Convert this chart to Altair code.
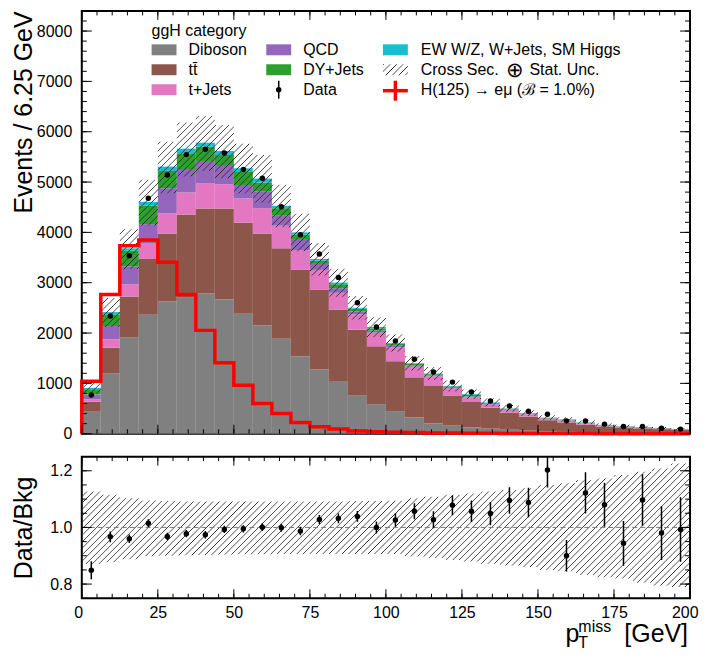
import altair as alt
import pandas as pd

FONT = "Liberation Sans"

# ---------------- data ----------------
bin_edges = [6.25 * i for i in range(33)]          # 0 ... 200 GeV, 6.25 GeV bins

processes = ["Diboson", "tt\u0304", "t+Jets", "QCD", "DY+Jets", "EW W/Z, W+Jets, SM Higgs"]
proc_colors = ["#808080", "#8c564b", "#e377c2", "#9467bd", "#2ca02c", "#17becf"]

diboson = [436, 1195, 1914, 2363, 2627, 2700, 2785, 2673, 2383, 2152, 1888, 1538, 1274, 1030, 766, 587,
           449, 323, 205, 170, 125, 100, 78, 60, 46, 36, 28, 22, 18, 15, 12, 10]
ttbar = [198, 515, 812, 1109, 1353, 1656, 1690, 1802, 1815, 1828, 1795, 1716, 1584, 1439, 1300, 1149,
         991, 797, 755, 590, 505, 415, 342, 280, 222, 188, 152, 120, 106, 92, 79, 65]
tjets = [46, 165, 244, 317, 396, 436, 495, 482, 475, 502, 449, 396, 396, 330, 304, 271,
         275, 210, 180, 145, 92, 65, 50, 42, 30, 36, 25, 18, 16, 14, 12, 10]
qcd = [99, 264, 357, 375, 502, 449, 449, 363, 251, 336, 211, 218, 119, 92, 59, 39,
       45, 28, 20, 20, 18, 15, 13, 10, 8, 8, 7, 6, 5, 4, 4, 3]
dyjets = [106, 231, 310, 364, 343, 330, 284, 218, 277, 172, 137, 86, 66, 79, 53, 46,
          25, 27, 22, 15, 30, 15, 12, 10, 8, 9, 7, 6, 4, 4, 3, 2]
ewk = [26, 46, 46, 79, 86, 92, 79, 79, 73, 79, 48, 46, 33, 33, 20, 27,
       15, 15, 13, 10, 15, 10, 7, 8, 6, 7, 5, 4, 3, 3, 2, 2]

data_counts = [770, 2337, 3538, 4680, 5142, 5545, 5650, 5577, 5248, 5076, 4508, 3954, 3571, 3102, 2601, 2119,
               1840, 1479, 1228, 1025, 831, 650, 550, 446, 386, 255, 252, 190, 144, 145, 110, 91]
signal = [1043, 2766, 3736, 3848, 3406, 2766, 2053, 1412, 964, 601, 403, 224, 139, 92, 53, 40,
          30, 22, 16, 12, 9, 7, 5, 4, 3, 2, 2, 1, 1, 1, 1, 0]

ratio = [0.849, 0.967, 0.960, 1.015, 0.968, 0.978, 0.974, 0.993, 0.995, 1.001, 0.999, 0.987, 1.028, 1.032,
         1.039, 1.000, 1.026, 1.057, 1.027, 1.078, 1.057, 1.049, 1.095, 1.088, 1.203, 0.900, 1.122, 1.080,
         0.944, 1.097, 0.980, 0.993]
ratio_err = [0.032, 0.019, 0.015, 0.014, 0.013, 0.013, 0.013, 0.013, 0.013, 0.014, 0.014, 0.015, 0.016, 0.017,
             0.019, 0.021, 0.024, 0.028, 0.030, 0.035, 0.038, 0.041, 0.047, 0.052, 0.062, 0.056, 0.073, 0.078,
             0.079, 0.091, 0.095, 0.114]
unc_up = [1.127, 1.115, 1.103, 1.095, 1.093, 1.092, 1.092, 1.092, 1.092, 1.092, 1.092, 1.092, 1.092, 1.092,
          1.093, 1.093, 1.094, 1.103, 1.108, 1.115, 1.120, 1.127, 1.132, 1.138, 1.150, 1.156, 1.167, 1.173,
          1.185, 1.197, 1.208, 1.226]
unc_dn = [0.871, 0.877, 0.888, 0.898, 0.900, 0.902, 0.903, 0.904, 0.905, 0.905, 0.906, 0.906, 0.906, 0.906,
          0.906, 0.906, 0.906, 0.897, 0.892, 0.885, 0.880, 0.872, 0.866, 0.860, 0.850, 0.845, 0.832, 0.824,
          0.820, 0.805, 0.795, 0.790]

x_major = [0, 25, 50, 75, 100, 125, 150, 175, 200]
x_minor = [5 * i for i in range(41)]
y_top_major = [0, 1000, 2000, 3000, 4000, 5000, 6000, 7000, 8000]
y_top_minor = [200 * i for i in range(43)]
y_low_major = [0.8, 1.0, 1.2]
y_low_minor = [0.75 + 0.05 * i for i in range(11)]

# ---------------- layout ----------------
W = 610
H_TOP = 424
H_LOW = 142
Y_MAX = 8400
R_LO, R_HI = 0.75, 1.25

xs = alt.Scale(domain=[0, 200], nice=False, zero=False)
ys_top = alt.Scale(domain=[0, Y_MAX], nice=False, zero=False)
ys_low = alt.Scale(domain=[R_LO, R_HI], nice=False, zero=False)

dummy = pd.DataFrame({"a": [0]})


def hatch(w, h, period=6.5, lw=1.7, rgb="40,40,40"):
    s_tot = w + h
    k = w * s_tot / (w * w + h * h)
    stops = []
    s = 0.0
    while s + lw < s_tot:
        stops.append({"offset": s / s_tot, "color": f"rgba({rgb},0)"})
        stops.append({"offset": (s + lw / 2) / s_tot, "color": f"rgba({rgb},1)"})
        stops.append({"offset": (s + lw) / s_tot, "color": f"rgba({rgb},0)"})
        s += period
    return {"gradient": "linear", "x1": 0, "y1": 0, "x2": k, "y2": k * h / w, "stops": stops}


# ---------------- tables ----------------
series = [diboson, ttbar, tjets, qcd, dyjets, ewk]
rows = []
totals = []
for i in range(32):
    base = 0
    for p, s in zip(processes, series):
        rows.append({"proc": p, "x0": bin_edges[i], "x1": bin_edges[i + 1], "y0": base, "y1": base + s[i]})
        base += s[i]
    totals.append(base)
stack_df = pd.DataFrame(rows)

band_hi = [t * u for t, u in zip(totals, unc_up)]
band_lo = [t * d for t, d in zip(totals, unc_dn)]
band_df = pd.DataFrame({"x": bin_edges, "hi": band_hi + [band_hi[-1]], "lo": band_lo + [band_lo[-1]]})

centers = [(bin_edges[i] + bin_edges[i + 1]) / 2 for i in range(32)]
data_df = pd.DataFrame({"x": centers, "y": data_counts})

sig_df = pd.DataFrame({"x": [0.0] + bin_edges[:-1] + [200.0],
                       "y": [0] + signal + [signal[-1]],
                       "i": list(range(34))})

ratio_df = pd.DataFrame({"x": centers, "r": ratio,
                         "lo": [r - e for r, e in zip(ratio, ratio_err)],
                         "hi": [r + e for r, e in zip(ratio, ratio_err)]})
rband_df = pd.DataFrame({"x": bin_edges, "hi": unc_up + [unc_up[-1]], "lo": unc_dn + [unc_dn[-1]]})


def py_top(v):
    return H_TOP * (1 - v / Y_MAX)


def py_low(v):
    return H_LOW * (R_HI - v) / (R_HI - R_LO)


hatch_top = hatch(W, py_top(min(band_lo)) - py_top(max(band_hi)))
hatch_low = hatch(W, py_low(min(unc_dn)) - py_low(max(unc_up)))
hatch_leg = hatch(25, 11)

# ---------------- axes (identical objects on every layer so they merge) ----------------
y_axis_top = alt.Axis(values=y_top_major, format="d", labelFont=FONT, labelFontSize=16, labelPadding=10,
                      labelColor="black", domain=False, ticks=False, grid=False,
                      title="Events / 6.25 GeV", titleFont=FONT, titleFontSize=25, titleFontWeight="normal",
                      titleColor="black", titleAlign="right", titleBaseline="alphabetic", titleX=-50, titleY=0)
y_axis_low = alt.Axis(values=y_low_major, format=".1f", labelFont=FONT, labelFontSize=16, labelPadding=10,
                      labelColor="black", domain=False, ticks=False, grid=False,
                      title="Data/Bkg", titleFont=FONT, titleFontSize=25, titleFontWeight="normal",
                      titleColor="black", titleAlign="center", titleBaseline="alphabetic", titleX=-50,
                      titleY=H_LOW / 2)
x_axis_low = alt.Axis(values=x_major, format="d", labelFont=FONT, labelFontSize=16, labelPadding=6,
                      labelColor="black", labelFlush=True, labelFlushOffset=8,
                      domain=False, ticks=False, grid=False, title=None)


def ticks(ys, h, ymaj, ymin, xaxis, yaxis):
    out = []
    for vals, L in [(x_major, 9), (x_minor, 4.5)]:
        b = alt.Chart(pd.DataFrame({"v": vals})).mark_rule(color="black", strokeWidth=1)
        out.append(b.encode(x=alt.X("v:Q", scale=xs, axis=xaxis), y=alt.value(h), y2=alt.value(h - L)))
        out.append(b.encode(x=alt.X("v:Q", scale=xs, axis=xaxis), y=alt.value(0), y2=alt.value(L)))
    for vals, L in [(ymaj, 10), (ymin, 5)]:
        b = alt.Chart(pd.DataFrame({"v": vals})).mark_rule(color="black", strokeWidth=1)
        out.append(b.encode(y=alt.Y("v:Q", scale=ys, axis=yaxis), x=alt.value(0), x2=alt.value(L)))
        out.append(b.encode(y=alt.Y("v:Q", scale=ys, axis=yaxis), x=alt.value(W - L), x2=alt.value(W)))
    return out


def text(t, x, y, size=16, align="left", baseline="middle"):
    return alt.Chart(dummy).mark_text(text=t, font=FONT, fontSize=size, align=align, baseline=baseline,
                                      color="black").encode(x=alt.value(x), y=alt.value(y))


def swatch(x0, x1, yc, fill, h=11):
    return alt.Chart(dummy).mark_rect(fill=fill, opacity=1).encode(
        x=alt.value(x0), x2=alt.value(x1), y=alt.value(yc - h / 2), y2=alt.value(yc + h / 2))


def seg(x0, x1, y0, y1, color, sw):
    return alt.Chart(dummy).mark_rule(color=color, strokeWidth=sw).encode(
        x=alt.value(x0), x2=alt.value(x1), y=alt.value(y0), y2=alt.value(y1))


# ---------------- top panel ----------------
bars = alt.Chart(stack_df).mark_bar(opacity=1).encode(
    x=alt.X("x0:Q", scale=xs, axis=None), x2="x1:Q",
    y=alt.Y("y1:Q", scale=ys_top, axis=y_axis_top), y2="y0:Q",
    color=alt.Color("proc:N", scale=alt.Scale(domain=processes, range=proc_colors), legend=None))

band = alt.Chart(band_df).mark_area(interpolate="step-after", fill=hatch_top, opacity=1).encode(
    x=alt.X("x:Q", scale=xs, axis=None),
    y=alt.Y("hi:Q", scale=ys_top, axis=y_axis_top), y2="lo:Q")

sig = alt.Chart(sig_df).mark_line(interpolate="step-after", color="#ff0000", strokeWidth=3.5,
                                  strokeJoin="miter").encode(
    x=alt.X("x:Q", scale=xs, axis=None), y=alt.Y("y:Q", scale=ys_top, axis=y_axis_top), order="i:Q")

pts = alt.Chart(data_df).mark_circle(size=30, color="black", opacity=1).encode(
    x=alt.X("x:Q", scale=xs, axis=None), y=alt.Y("y:Q", scale=ys_top, axis=y_axis_top))

legend = [
    text("ggH category", 70, 20),
    swatch(70, 95, 39, proc_colors[0]), text("Diboson", 107, 39),
    swatch(70, 95, 59, proc_colors[1]), text("tt\u0304", 107, 59),
    swatch(70, 95, 79, proc_colors[2]), text("t+Jets", 107, 79),
    swatch(185, 210, 39, proc_colors[3]), text("QCD", 222, 39),
    swatch(185, 210, 59, proc_colors[4]), text("DY+Jets", 222, 59),
    seg(197.5, 197.5, 70, 88, "black", 1.5),
    alt.Chart(dummy).mark_circle(size=30, color="black", opacity=1).encode(x=alt.value(197.5), y=alt.value(79)),
    text("Data", 222, 79),
    swatch(302, 327, 39, proc_colors[5]), text("EW W/Z, W+Jets, SM Higgs", 340, 39),
    swatch(302, 327, 59, hatch_leg), text("Cross Sec.", 340, 59),
    text("\u2295", 425, 60, size=21), text("Stat. Unc.", 449, 59),
    seg(302, 327, 80, 80, "#ff0000", 3.5), seg(314.5, 314.5, 70, 90, "#ff0000", 3.5),
    text("H(125) \u2192 e\u03bc (\u212c = 1.0%)", 340, 79),
]

left_anchor = alt.Chart(dummy).mark_rule(color="white", strokeWidth=0.5).encode(
    x=alt.value(-72), x2=alt.value(-72), y=alt.value(200), y2=alt.value(201))

top = alt.layer(bars, band, sig, pts, *ticks(ys_top, H_TOP, y_top_major, y_top_minor, None, y_axis_top),
                *legend, left_anchor).properties(width=W, height=H_TOP)

# ---------------- ratio panel ----------------
rband = alt.Chart(rband_df).mark_area(interpolate="step-after", fill=hatch_low, opacity=1).encode(
    x=alt.X("x:Q", scale=xs, axis=x_axis_low),
    y=alt.Y("hi:Q", scale=ys_low, axis=y_axis_low), y2="lo:Q")

one = alt.Chart(pd.DataFrame({"v": [1.0]})).mark_rule(color="#777777", strokeWidth=1, strokeDash=[5, 3]).encode(
    y=alt.Y("v:Q", scale=ys_low, axis=y_axis_low), x=alt.value(0), x2=alt.value(W))

rerr = alt.Chart(ratio_df).mark_rule(color="black", strokeWidth=1.5, clip=True).encode(
    x=alt.X("x:Q", scale=xs, axis=x_axis_low), y=alt.Y("lo:Q", scale=ys_low, axis=y_axis_low), y2="hi:Q")

rpts = alt.Chart(ratio_df).mark_circle(size=30, color="black", opacity=1).encode(
    x=alt.X("x:Q", scale=xs, axis=x_axis_low), y=alt.Y("r:Q", scale=ys_low, axis=y_axis_low))

xtitle = [
    text("p", 485, 186, size=25, baseline="alphabetic"),
    text("miss", 498, 176, size=16, baseline="alphabetic"),
    text("T", 498, 192, size=16, baseline="alphabetic"),
    text("[GeV]", 608, 186, size=25, align="right", baseline="alphabetic"),
]

low = alt.layer(rband, one, rerr, rpts,
                *ticks(ys_low, H_LOW, y_low_major, y_low_minor, x_axis_low, y_axis_low),
                *xtitle).properties(width=W, height=H_LOW)

chart = alt.vconcat(top, low, spacing=23, bounds="flush").properties(
    padding=0, background="white"
).configure_view(stroke="black", strokeWidth=2)

chart.save("out.html", embed_options={"renderer": "svg", "actions": False})
